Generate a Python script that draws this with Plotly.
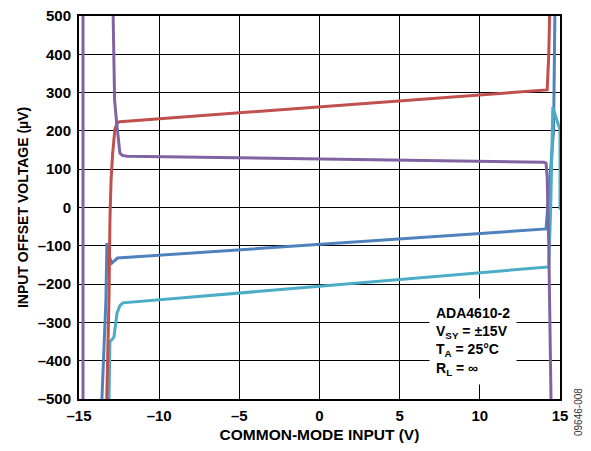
import plotly.graph_objects as go

# ---- data ----
red_x = [-13.27, -13.13, -13.07, -13.0, -12.9, -12.76, -12.6, -12.45, 14.2, 14.3, 14.35]
red_y = [-500, -241, -33, 72, 142, 205, 222, 224, 307, 400, 500]

blue_x = [-13.57, -13.32, -13.26, -13.15, -12.95, -12.8, -12.6, 14.13, 14.3, 14.6, 14.68]
blue_y = [-500, -241, -93, -125, -145, -140, -132, -56, 40, 202, 500]

cyan_x = [-13.13, -13.07, -12.95, -12.82, -12.63, -12.45, -12.26, 14.3, 14.42, 14.55, 15.0, 15.0]
cyan_y = [-500, -350, -345, -338, -276, -256, -249, -155, 0, 262, 202, -6]

purple_x = [-14.75, -14.75, None, -12.87, -12.78, -12.65, -12.55, -12.45, -12.3, -12.0, 14.0, 14.13, 14.2, 14.3, 14.44]
purple_y = [-500, 500, None, 500, 280, 221, 170, 142, 136, 134, 118, 116, 80, -100, -500]

x_ticks = [-15, -10, -5, 0, 5, 10, 15]
x_ticktext = ["–15", "–10", "–5", "0", "5", "10", "15"]
y_ticks = [-500, -400, -300, -200, -100, 0, 100, 200, 300, 400, 500]
y_ticktext = ["–500", "–400", "–300", "–200", "–100", "0", "100", "200", "300", "400", "500"]

note_lines = ["ADA4610-2", "V<sub>SY</sub> = ±15V", "T<sub>A</sub> = 25°C", "R<sub>L</sub> = ∞"]

FONT = "Liberation Sans, Arial, sans-serif"

fig = go.Figure()
for xs, ys, col in [(blue_x, blue_y, "#4f81bd"), (cyan_x, cyan_y, "#4bacc6"),
                    (red_x, red_y, "#c0504d"), (purple_x, purple_y, "#8064a2")]:
    fig.add_trace(go.Scatter(x=xs, y=ys, mode="lines", line=dict(color=col, width=3),
                             showlegend=False, connectgaps=False, hoverinfo="skip"))

# note box (white background hides the gridlines behind it)
fig.add_annotation(x=9.6, y=-350, xref="x", yref="y",
                   text="<br>".join("<b>" + t + "</b>" for t in note_lines),
                   showarrow=False, xanchor="center", yanchor="middle", align="left",
                   bgcolor="white", borderpad=6,
                   font=dict(family=FONT, size=14, color="black"))

fig.add_annotation(x=(578 - 79) / (560 - 79), y=(399 - 412) / (399 - 16),
                   xref="paper", yref="paper", text="09646-008", showarrow=False,
                   textangle=-90, xanchor="center", yanchor="middle",
                   font=dict(family=FONT, size=10, color="#333"))

axis_common = dict(showgrid=True, gridcolor="black", gridwidth=1, zeroline=False,
                   showline=True, linecolor="black", linewidth=2, mirror=True,
                   ticks="", automargin=False, layer="below traces",
                   ticklabeloverflow="allow",
                   tickfont=dict(family=FONT, size=15, color="black", weight="bold"))

fig.update_xaxes(range=[-15, 15], tickvals=x_ticks, ticktext=x_ticktext,
                 ticklabelstandoff=2,
                 title=dict(text="<b>COMMON-MODE INPUT (V)</b>", standoff=6,
                            font=dict(family=FONT, size=15.5, color="black")),
                 **axis_common)
fig.update_yaxes(range=[-500, 500], tickvals=y_ticks, ticktext=y_ticktext,
                 ticklabelstandoff=3,
                 title=dict(text="<b>INPUT OFFSET VOLTAGE (µV)</b>", standoff=6,
                            font=dict(family=FONT, size=14, color="black")),
                 **axis_common)

# the page body adds an 8px offset, so the figure is 8px smaller and margins shifted
fig.update_layout(width=583, height=443, margin=dict(l=71, r=31, t=8, b=52),
                  paper_bgcolor="white", plot_bgcolor="white",
                  font=dict(family=FONT, color="black"))

fig.write_html("out.html")
